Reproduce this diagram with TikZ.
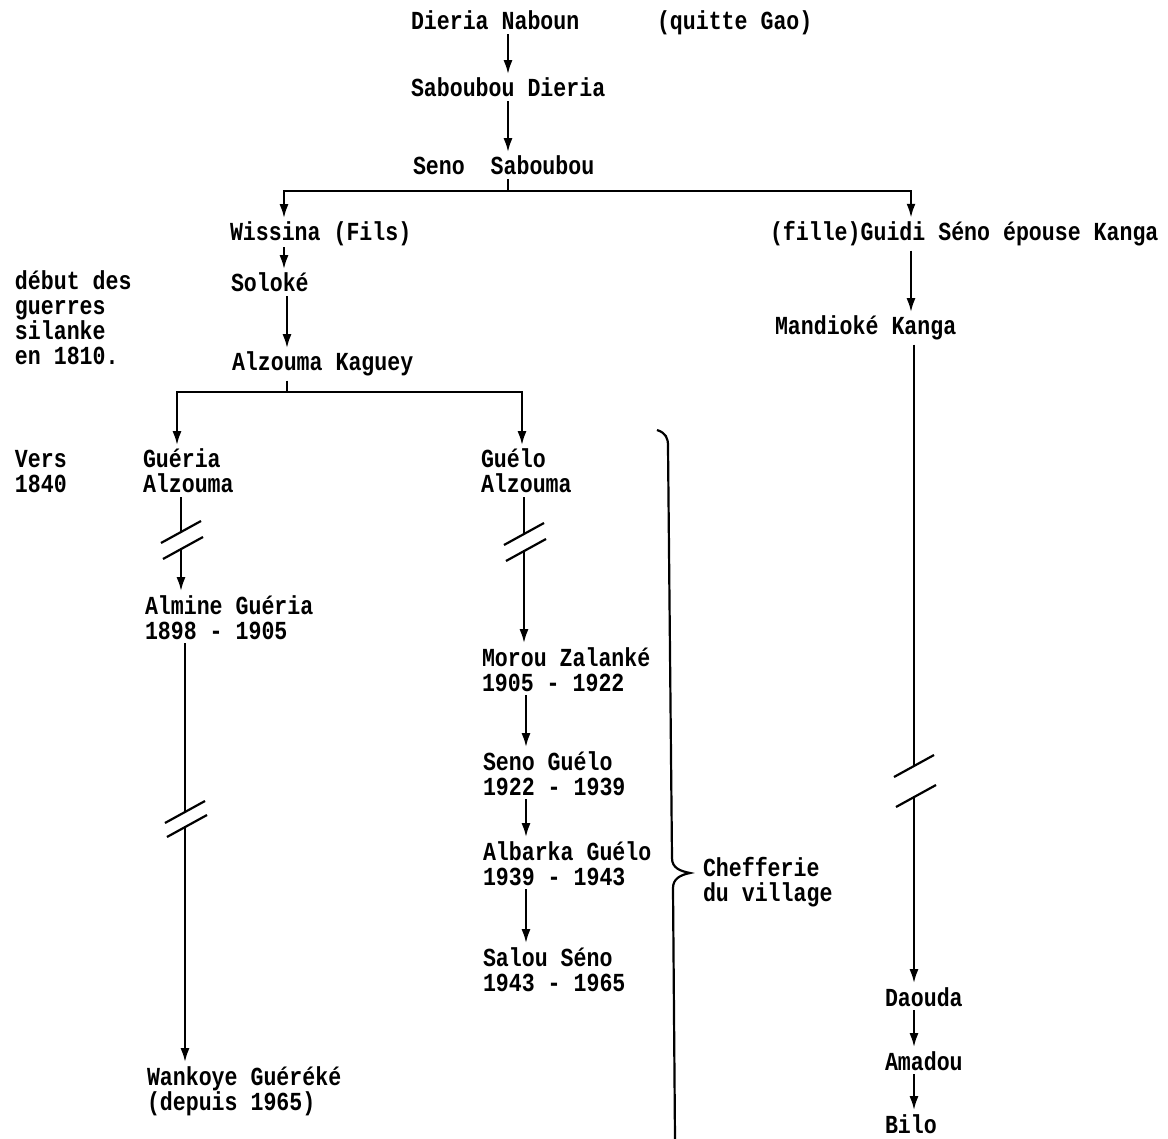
\documentclass[tikz,border=0pt]{standalone}
\usepackage{fontspec}
\setmainfont{Liberation Mono}[FakeStretch=0.83]
\usetikzlibrary{arrows.meta}

% coupure sur une ligne : #1 point, #2 demi-ecart
\newcommand{\brisure}[2]{%
  \draw[trait] ([yshift=#2]#1) ++(-20pt,-11pt) -- ++(40pt,22pt);
  \draw[trait] ([yshift=-#2]#1) ++(-18pt,-11pt) -- ++(40pt,22pt);}

\begin{document}
\begin{tikzpicture}[x=1pt, y=-1pt,
  font=\fontsize{26}{25}\selectfont\bfseries,
  nom/.style={inner sep=0pt, outer xsep=0pt, outer ysep=4pt, anchor=base west, align=left},
  fleche/.style={-{Latex[length=14pt,width=9pt]}, line width=2.2pt},
  trait/.style={line width=2.2pt}]
\useasboundingbox (0,0) rectangle (1168,1139);

% lignee principale
\node[nom] (dieria) at (411,30) {Dieria Naboun};
\node[nom] (quitte) at (657,30) {(quitte Gao)};
\node[nom] (sabdieria) at (411,97) {Saboubou Dieria};
\node[nom] (seno) at (413,175) {Seno~~Saboubou};
\node[nom] (wissina) at (230,241) {Wissina (Fils)};
\node[nom] (soloke) at (231,292) {Soloké};
\node[nom] (alzkag) at (232,371) {Alzouma Kaguey};
\node[nom] (debut) at (15,365) {début des\\guerres\\silanke\\en 1810.};
\node[nom] (vers) at (15,493) {Vers\\1840};
\node[nom] (gueria) at (143,493) {Guéria\\Alzouma};
\node[nom] (guelo) at (481,493) {Guélo\\Alzouma};
\node[nom] (almine) at (145,639) {Almine Guéria\\1898 - 1905};
\node[nom] (wankoye) at (147,1110) {Wankoye Guéréké\\(depuis 1965)};
\node[nom] (morou) at (482,691) {Morou Zalanké\\1905 - 1922};
\node[nom] (senog) at (483,795) {Seno Guélo\\1922 - 1939};
\node[nom] (albarka) at (483,885) {Albarka Guélo\\1939 - 1943};
\node[nom] (salou) at (483,991) {Salou Séno\\1943 - 1965};
\node[nom] (chefferie) at (703,901) {Chefferie\\du village};
% branche de la fille
\node[nom] (guidi) at (770,241) {(fille)Guidi Séno épouse Kanga};
\node[nom] (mandioke) at (775,335) {Mandioké Kanga};
\node[nom] (daouda) at (885,1006) {Daouda};
\node[nom] (amadou) at (885,1070) {Amadou};
\node[nom] (bilo) at (885,1133) {Bilo};

\coordinate (c0) at (508,0);
\coordinate (c1) at (284,0);
\coordinate (c2) at (911,0);
\coordinate (c3) at (177,0);
\coordinate (c4) at (522,0);
\coordinate (c5) at (526,0);
\coordinate (bar1) at (508,191);
\coordinate (bar2) at (287,392);
\coordinate (b1) at (181,540);
\coordinate (b2) at (185,819);
\coordinate (b3) at (524,542);
\coordinate (b4) at (914,781);

\draw[fleche] (dieria.south -| c0) -- (sabdieria.north -| c0);
\draw[fleche] (sabdieria.south -| c0) -- (seno.north -| c0);
\draw[trait] (seno.south -| bar1) -- (bar1);
\draw[fleche] (bar1) -| (wissina.north -| c1);
\draw[fleche] (bar1) -| (guidi.north -| c2);
\draw[fleche] ([yshift=3pt]wissina.south -| c1) -- (soloke.north -| c1);
\draw[fleche] (soloke.south -| bar2) -- (alzkag.north -| bar2);
\draw[trait] (alzkag.south -| bar2) -- (bar2);
\draw[fleche] (bar2) -| (gueria.north -| c3);
\draw[fleche] (bar2) -| (guelo.north -| c4);

% Gueria
\draw[trait] (gueria.south -| b1) -- ([yshift=8pt]b1);
\draw[fleche] ([yshift=-8pt]b1) -- (almine.north -| b1);
\brisure{b1}{8pt}
\draw[trait] (almine.south -| b2) -- ([yshift=7pt]b2);
\draw[fleche] ([yshift=-7pt]b2) -- (wankoye.north -| b2);
\brisure{b2}{7pt}

% Guelo
\draw[trait] (guelo.south -| b3) -- ([yshift=8pt]b3);
\draw[fleche] ([yshift=-8pt]b3) -- (morou.north -| b3);
\brisure{b3}{8pt}
\draw[fleche] (morou.south -| c5) -- (senog.north -| c5);
\draw[fleche] (senog.south -| c5) -- (albarka.north -| c5);
\draw[fleche] (albarka.south -| c5) -- (salou.north -| c5);

% accolade
\draw[trait] (657,430) .. controls (666,433) and (668,438) .. (668,446)
  -- (672,858) .. controls (672,868) and (680,871) .. (690,873)
  .. controls (680,875) and (673,879) .. (673,888) -- (675,1139);

% Kanga
\draw[fleche] (guidi.south -| c2) -- (mandioke.north -| c2);
\draw[trait] (mandioke.south -| b4) -- ([yshift=15pt]b4);
\draw[fleche] ([yshift=-15pt]b4) -- (daouda.north -| b4);
\brisure{b4}{15pt}
\draw[fleche] (daouda.south -| b4) -- (amadou.north -| b4);
\draw[fleche] (amadou.south -| b4) -- (bilo.north -| b4);
\end{tikzpicture}
\end{document}
